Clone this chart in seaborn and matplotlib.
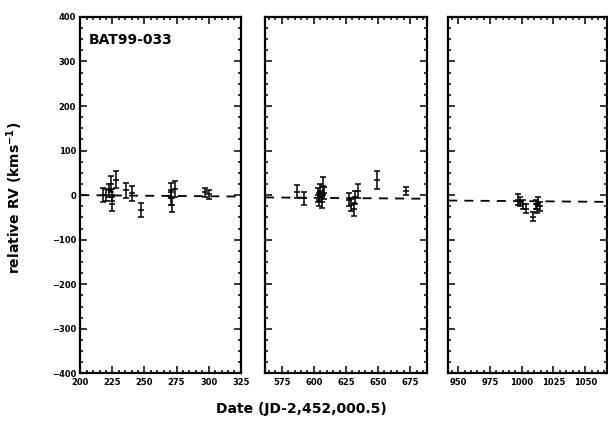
import numpy as np
import pandas as pd
import matplotlib
matplotlib.use("Agg")
import matplotlib.pyplot as plt
import seaborn as sns
from matplotlib.ticker import MultipleLocator

sns.set_theme(style="ticks")
plt.rcParams['font.family'] = ['DejaVu Sans']
plt.rcParams['text.color'] = 'black'
plt.rcParams['xtick.color'] = 'black'
plt.rcParams['ytick.color'] = 'black'

# ---- data ----
p1_date = [217.5, 220, 222, 224, 224.5, 225, 228, 236, 240, 247, 270.5, 271, 271.5, 274, 297.5, 300]
p1_rv   = [1, 0, 11, 26, 0, -20, 35, 11, 4, -33, 12, -7, -22, 13, 7, 2]
p1_err  = [16, 14, 14, 18, 14, 16, 19, 17, 16, 15, 16, 15, 15, 18, 10, 10]

p2_date = [586.7, 592, 603, 604, 605, 606, 607, 608, 627, 629, 631, 632, 634, 649, 672]
p2_rv   = [8, -7, 0, -10, 10, -15, 20, 5, -10, -22, -32, -5, 10, 34, 10]
p2_err  = [14, 14, 16, 14, 14, 14, 20, 14, 14, 14, 14, 14, 16, 20, 9]

p3_date = [997, 999, 1001, 1003, 1009, 1011, 1012, 1013, 1014]
p3_rv   = [-10, -15, -20, -30, -48, -20, -30, -15, -25]
p3_err  = [12, 10, 10, 10, 10, 10, 10, 10, 10]

xlims = [(200, 325), (562, 688), (942, 1067)]
xticks = [[200, 225, 250, 275, 300, 325], [575, 600, 625, 650, 675], [950, 975, 1000, 1025, 1050]]
trend_x = [[200, 325], [562, 688], [942, 1067]]
trend_y = [[0, -3], [-5, -8], [-12, -15]]

ylim = (-400, 400)
yticks = [-400, -300, -200, -100, 0, 100, 200, 300, 400]

panels = [(p1_date, p1_rv, p1_err), (p2_date, p2_rv, p2_err), (p3_date, p3_rv, p3_err)]

fig = plt.figure(figsize=(6.08, 4.22), dpi=100)
lefts = [0.132, 0.436, 0.737]
widths = [0.264, 0.266, 0.261]
bottom, height = 0.115, 0.845

for i, (d, rv, er) in enumerate(panels):
    ax = fig.add_axes([lefts[i], bottom, widths[i], height])
    df = pd.DataFrame({"date": d, "rv": rv})
    tr = pd.DataFrame({"x": trend_x[i], "y": trend_y[i]})
    sns.lineplot(data=tr, x="x", y="y", ax=ax, color="black", lw=1.3,
                 linestyle=(0, (5, 4)))
    ax.errorbar(d, rv, yerr=er, fmt="none", ecolor="black", elinewidth=1.1,
                capsize=2.2, capthick=1.1)
    sns.scatterplot(data=df, x="date", y="rv", ax=ax, marker="_", s=20,
                    color="black", linewidth=1.1)
    ax.set_xlim(*xlims[i])
    ax.set_ylim(*ylim)
    ax.set_xticks(xticks[i])
    ax.xaxis.set_minor_locator(MultipleLocator(5))
    ax.set_yticks(yticks)
    ax.yaxis.set_minor_locator(MultipleLocator(25))
    ax.tick_params(which="both", direction="in", top=True, right=True,
                   width=1.1, colors="black")
    ax.tick_params(which="major", length=5)
    ax.tick_params(which="minor", length=2.5)
    ax.tick_params(axis="both", labelsize=6, pad=3)
    for lab in ax.get_xticklabels() + ax.get_yticklabels():
        lab.set_fontweight("bold")
        lab.set_color("black")
    for sp in ax.spines.values():
        sp.set_visible(True)
        sp.set_linewidth(1.6)
        sp.set_color("black")
    ax.set_xlabel("")
    ax.set_ylabel("")
    if i > 0:
        ax.set_yticklabels([])
    if i == 0:
        ax.text(0.05, 0.955, "BAT99-033", transform=ax.transAxes, ha="left",
                va="top", fontsize=10, fontweight="bold", color="black")

fig.text(0.025, 0.53, "relative RV (kms$^{\\mathbf{-1}}$)", rotation=90,
         ha="center", va="center", fontsize=10, fontweight="bold", color="black")
fig.text(0.495, 0.03, "Date (JD-2,452,000.5)", ha="center", va="center",
         fontsize=10, fontweight="bold", color="black")

fig.savefig("out.png", dpi=100, facecolor="white")
